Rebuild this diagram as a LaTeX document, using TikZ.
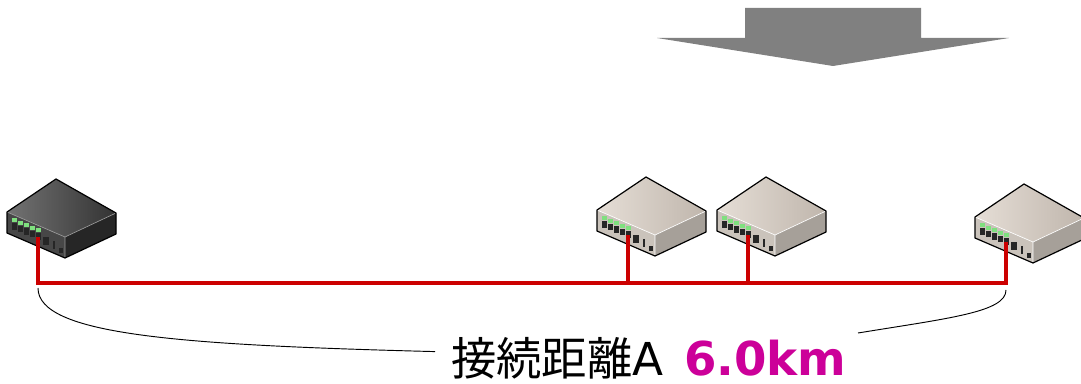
\documentclass[tikz,border=0pt]{standalone}
\usepackage{fontspec}
\newfontfamily\jpfont{Noto Sans CJK JP}
\newfontfamily\latinfont{DejaVu Sans}
\usetikzlibrary{calc}
\definecolor{cablered}{HTML}{CC0000}
\definecolor{arrowgray}{HTML}{808080}
\definecolor{kmcolor}{HTML}{CC0099}
\definecolor{ledgreen}{HTML}{7FE07F}

% isometric switch body: #1/#2 top shading, #3 front face, #4 side face, #5 edge tone
\newcommand\switchbody[5]{%
  \shade[left color=#1, right color=#2] (0,0) -- (49,-33) -- (109,1) -- (58,25) -- cycle;
  \fill[#3] (0,0) -- (58,25) -- (58,46) -- (0,21) -- cycle;
  \fill[#4] (58,25) -- (109,1) -- (109,22) -- (58,46) -- cycle;
  \draw[#5, line width=0.5pt] (0,0) -- (58,25) -- (109,1) (58,25) -- (58,46);
  \draw[black, line width=0.9pt, line join=round]
    (0,0) -- (49,-33) -- (109,1) -- (109,22) -- (58,46) -- (0,21) -- cycle;
  \begin{scope}[x={(0.75pt,-0.3233pt)}, y={(0pt,-0.75pt)}]
    \foreach \u in {5,11,17,23,29} {
      \fill[ledgreen] (\u,4) rectangle ++(4.5,2);
      \fill[black!85] (\u,9) rectangle ++(4.5,4.5);
    }
    \fill[black!85] (36,9) rectangle ++(5.5,6);
    \fill[black!85] (45.5,9) rectangle ++(2,8);
    \fill[black!85] (52,14) rectangle ++(3.5,3.5);
    \coordinate (-port) at (31,12);
  \end{scope}
}

\tikzset{
  darkswitch/.pic={\switchbody{black!55}{black!80}{black!72}{black!85}{black!40}},
  lightswitch/.pic={\switchbody{black!8!white!88!brown}{black!25!white!85!brown}{black!20!white!88!brown}{black!36!white!90!brown}{white}},
  cable/.style={cablered, line width=2.4pt},
  span/.style={black, line width=0.7pt},
  bigarrow/.style={fill=arrowgray},
  label/.style={font=\jpfont\fontsize{34pt}{40pt}\selectfont, inner sep=0pt, text depth=0pt}
}

\begin{document}
\begin{tikzpicture}[x=0.75pt, y=-0.75pt]
  \useasboundingbox (0,0) rectangle (1081,384);
  \clip (0,0) rectangle (1081,384);

  % downward block arrow
  \fill[bigarrow] (745,8) -- (921,8) -- (921,38) -- (1009,38) -- (833,66)
    -- (657,38) -- (745,38) -- cycle;

  % switches
  \pic (sw1) at (7,212) {darkswitch};
  \pic (sw2) at (597,210) {lightswitch};
  \pic (sw3) at (717,210) {lightswitch};
  \pic (sw4) at (975,217) {lightswitch};

  % red bus with drops
  \coordinate (bus) at (0,283);
  \draw[cable, line join=miter] (sw1-port) -- (sw1-port |- bus) -| (sw4-port);
  \draw[cable] (sw2-port) -- (sw2-port |- bus);
  \draw[cable] (sw3-port) -- (sw3-port |- bus);

  % distance label and brace-like curves
  \node[label, anchor=base west] (lbl) at (451,376)
    {接続距離{\latinfont A}\hspace{0.45em}\textcolor{kmcolor}{\latinfont\bfseries\fontsize{35pt}{40pt}\selectfont 6.0km}};
  \coordinate (cl) at (38,288);
  \coordinate (cr) at (1006,290);
  \coordinate (cre) at (858,333);
  \draw[span] (cl) .. controls (38,335) and (180,345) .. ([xshift=-12pt,yshift=4pt]lbl.west);
  \draw[span] (cre) .. controls (950,318) and (1006,312) .. (cr);
\end{tikzpicture}
\end{document}
